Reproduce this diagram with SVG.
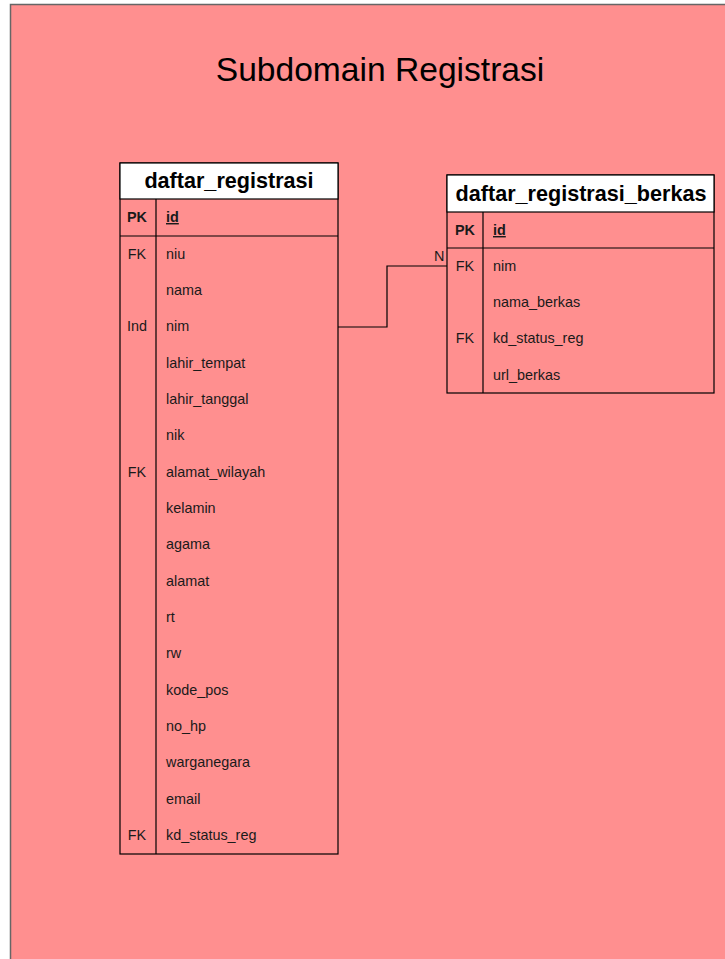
<svg xmlns="http://www.w3.org/2000/svg" width="725" height="959" viewBox="0 0 725 959">
  <style>
    .bg { fill: #ff8f8f; stroke: #666666; stroke-width: 1.5; }
    .tbl { fill: #ff8f8f; stroke: #000000; stroke-width: 1.2; }
    .hdr { fill: #ffffff; stroke: #000000; stroke-width: 1.2; }
    .ln { stroke: #000000; stroke-width: 1.2; fill: none; }
    .title { font-family: "Liberation Sans", Arial, sans-serif; font-size: 33.6px; fill: #000000; }
    .hname { font-family: "Liberation Sans", Arial, sans-serif; font-size: 21.6px; font-weight: bold; fill: #000000; }
    .key { font-family: "Liberation Sans", Arial, sans-serif; font-size: 14.4px; fill: #1a1a1a; text-anchor: middle; }
    .keyb { font-family: "Liberation Sans", Arial, sans-serif; font-size: 14.4px; font-weight: bold; fill: #1a1a1a; text-anchor: middle; }
    .fld { font-family: "Liberation Sans", Arial, sans-serif; font-size: 14.4px; fill: #1a1a1a; }
    .fldb { font-family: "Liberation Sans", Arial, sans-serif; font-size: 14.4px; font-weight: bold; fill: #1a1a1a; text-decoration: underline; }
    .lbl { font-family: "Liberation Sans", Arial, sans-serif; font-size: 14.4px; fill: #1a1a1a; }
  </style>

  <!-- container -->
  <rect x="0" y="0" width="725" height="959" fill="#ffffff"/>
  <rect class="bg" x="10.5" y="4.5" width="730" height="970"/>

  <g id="title">
    <text class="title" x="380" y="81" text-anchor="middle">Subdomain Registrasi</text>
  </g>

  <!-- connectors -->
  <g id="connectors">
    <polyline class="ln" points="338,327 387,327 387,266 447,266"/>
    <text class="lbl" x="434" y="261">N</text>
  </g>

  <!-- table: daftar_registrasi -->
  <g id="daftar_registrasi">
    <rect class="tbl" x="120" y="163" width="218" height="691"/>
    <rect class="hdr" x="120" y="163" width="218" height="36"/>
    <text class="hname" x="229" y="188" text-anchor="middle">daftar_registrasi</text>
    <line class="ln" x1="120" y1="236" x2="338" y2="236"/>
    <line class="ln" x1="156" y1="199" x2="156" y2="854"/>
    <text class="keyb" x="137" y="222">PK</text>
    <text class="fldb" x="166" y="222">id</text>
    <g>
      <text class="key" x="137" y="259">FK</text><text class="fld" x="166" y="259">niu</text>
      <text class="fld" x="166" y="295">nama</text>
      <text class="key" x="137" y="331">Ind</text><text class="fld" x="166" y="331">nim</text>
      <text class="fld" x="166" y="368">lahir_tempat</text>
      <text class="fld" x="166" y="404">lahir_tanggal</text>
      <text class="fld" x="166" y="440">nik</text>
      <text class="key" x="137" y="477">FK</text><text class="fld" x="166" y="477">alamat_wilayah</text>
      <text class="fld" x="166" y="513">kelamin</text>
      <text class="fld" x="166" y="549">agama</text>
      <text class="fld" x="166" y="586">alamat</text>
      <text class="fld" x="166" y="622">rt</text>
      <text class="fld" x="166" y="658">rw</text>
      <text class="fld" x="166" y="695">kode_pos</text>
      <text class="fld" x="166" y="731">no_hp</text>
      <text class="fld" x="166" y="767">warganegara</text>
      <text class="fld" x="166" y="804">email</text>
      <text class="key" x="137" y="840">FK</text><text class="fld" x="166" y="840">kd_status_reg</text>
    </g>
  </g>

  <!-- table: daftar_registrasi_berkas -->
  <g id="daftar_registrasi_berkas">
    <rect class="tbl" x="447" y="175" width="267" height="218"/>
    <rect class="hdr" x="447" y="175" width="267" height="37"/>
    <text class="hname" x="581" y="201" text-anchor="middle">daftar_registrasi_berkas</text>
    <line class="ln" x1="447" y1="248" x2="714" y2="248"/>
    <line class="ln" x1="483" y1="212" x2="483" y2="393"/>
    <text class="keyb" x="465" y="235">PK</text>
    <text class="fldb" x="493" y="235">id</text>
    <text class="key" x="465" y="271">FK</text><text class="fld" x="493" y="271">nim</text>
    <text class="fld" x="493" y="307">nama_berkas</text>
    <text class="key" x="465" y="343">FK</text><text class="fld" x="493" y="343">kd_status_reg</text>
    <text class="fld" x="493" y="380">url_berkas</text>
  </g>
</svg>
